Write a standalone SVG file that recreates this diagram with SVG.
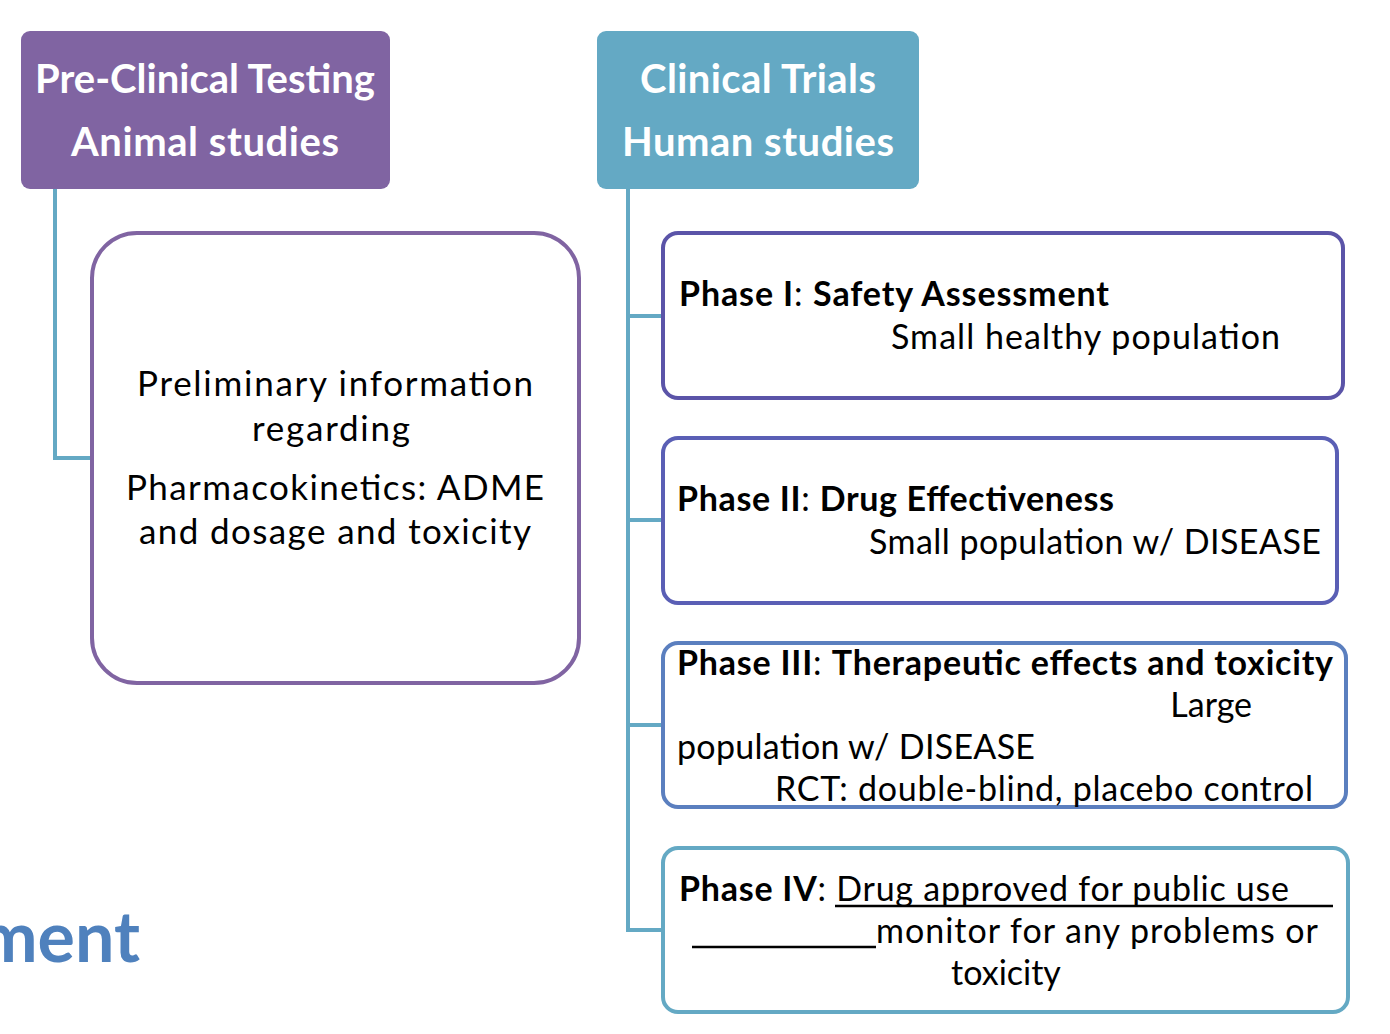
<svg xmlns="http://www.w3.org/2000/svg" width="1390" height="1034" viewBox="0 0 1390 1034">
<style>
text{font-family:Lato,"Open Sans",sans-serif;fill:#000}
.h{fill:#fff;font-weight:bold;font-size:40px;text-anchor:middle}
.b{font-size:35px}
.p{font-size:34px}
.bd{font-weight:bold}
.conn{stroke:#64A9C4;stroke-width:4;fill:none}
.ul{stroke:#000;stroke-width:2.5}
</style>
<rect width="1390" height="1034" fill="#fff"/>
<g id="connectors">
<path class="conn" d="M55 189V458H92"/>
<path class="conn" d="M628 189V930H663M628 316H663M628 520H663M628 725H663"/>
</g>
<g id="preclinical">
<rect x="21" y="31" width="369" height="158" rx="9" fill="#8064A2"/>
<text class="h" x="205" y="93">Pre-Clinical Testing</text>
<text class="h" x="205" y="156" textLength="268">Animal studies</text>
</g>
<g id="clinical">
<rect x="597" y="31" width="322" height="158" rx="9" fill="#64A9C4"/>
<text class="h" x="758" y="93" textLength="236">Clinical Trials</text>
<text class="h" x="758" y="156" textLength="272">Human studies</text>
</g>
<g id="prelim">
<rect x="92" y="233" width="487" height="450" rx="45" fill="#fff" stroke="#8064A2" stroke-width="4"/>
<text class="b" x="335" y="396" text-anchor="middle" textLength="396">Preliminary information</text>
<text class="b" x="331" y="441" text-anchor="middle" textLength="158">regarding</text>
<text class="b" x="335" y="500" text-anchor="middle" textLength="418">Pharmacokinetics: ADME</text>
<text class="b" x="335" y="544" text-anchor="middle" textLength="392">and dosage and toxicity</text>
</g>
<g id="phase1">
<rect x="663" y="233" width="680" height="165" rx="15" fill="#fff" stroke="#5B54A8" stroke-width="4"/>
<text class="p" x="679" y="306" textLength="430"><tspan class="bd">Phase I</tspan>: <tspan class="bd">Safety Assessment</tspan></text>
<text class="p" x="891" y="349" textLength="389">Small healthy population</text>
</g>
<g id="phase2">
<rect x="663" y="438" width="674" height="165" rx="15" fill="#fff" stroke="#5A5FB5" stroke-width="4"/>
<text class="p" x="677" y="511" textLength="437"><tspan class="bd">Phase II</tspan>: <tspan class="bd">Drug Effectiveness</tspan></text>
<text class="p" x="869" y="554" textLength="452">Small population w/ DISEASE</text>
</g>
<g id="phase3">
<rect x="663" y="643" width="683" height="164" rx="15" fill="#fff" stroke="#5B7FBF" stroke-width="4"/>
<text class="p" x="677" y="675" textLength="656"><tspan class="bd">Phase III</tspan>: <tspan class="bd">Therapeutic effects and toxicity</tspan></text>
<text class="p" x="1252" y="717" text-anchor="end">Large</text>
<text class="p" x="677" y="759" textLength="358">population w/ DISEASE</text>
<text class="p" x="775" y="801" textLength="538">RCT: double-blind, placebo control</text>
</g>
<g id="phase4">
<rect x="663" y="848" width="685" height="164" rx="15" fill="#fff" stroke="#64A9C4" stroke-width="4"/>
<text class="p" x="679" y="901" textLength="610"><tspan class="bd">Phase IV</tspan>: Drug approved for public use</text>
<line class="ul" x1="835" y1="906" x2="1333" y2="906"/>
<line class="ul" x1="692" y1="947" x2="876" y2="947"/>
<text class="p" x="876" y="943" textLength="442">monitor for any problems or</text>
<text class="p" x="1006" y="985" text-anchor="middle">toxicity</text>
</g>
<text x="140" y="962" text-anchor="end" font-size="70" font-weight="bold" style="fill:#4F81BD">ment</text>
</svg>
